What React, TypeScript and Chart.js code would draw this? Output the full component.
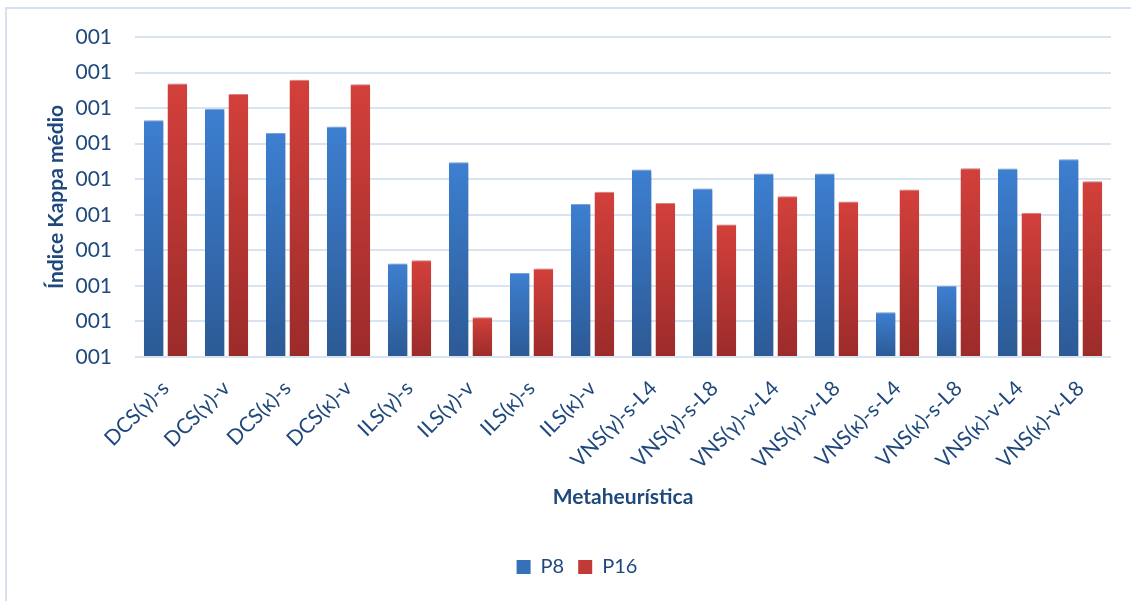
import React, { useEffect, useRef } from "react";
import { Chart, registerables } from "chart.js";

Chart.register(...registerables);

const categories = [
  "DCS(γ)-s", "DCS(γ)-v", "DCS(κ)-s", "DCS(κ)-v",
  "ILS(γ)-s", "ILS(γ)-v", "ILS(κ)-s", "ILS(κ)-v",
  "VNS(γ)-s-L4", "VNS(γ)-s-L8", "VNS(γ)-v-L4", "VNS(γ)-v-L8",
  "VNS(κ)-s-L4", "VNS(κ)-s-L8", "VNS(κ)-v-L4", "VNS(κ)-v-L8",
];

const p8 = [6.66, 6.98, 6.3, 6.48, 2.63, 5.48, 2.36, 4.3, 5.27, 4.74, 5.16, 5.16, 1.26, 2.0, 5.3, 5.56];
const p16 = [7.69, 7.4, 7.8, 7.67, 2.72, 1.12, 2.49, 4.65, 4.33, 3.73, 4.52, 4.37, 4.71, 5.31, 4.06, 4.94];

const yTickLabels = ["001", "001", "001", "001", "001", "001", "001", "001", "001", "001"];

const TEXT = "#1f497d";
const FONT = "Lato, 'Open Sans', sans-serif";

function gradientFill(top: string, bottom: string, solid: string) {
  return (ctx: any) => {
    const chart = ctx.chart;
    const ys = chart.scales && chart.scales.y;
    if (!chart.chartArea || !ys || ctx.raw == null) return solid;
    const yTop = ys.getPixelForValue(ctx.raw);
    const yBot = ys.getPixelForValue(0);
    if (!isFinite(yTop) || !isFinite(yBot) || yTop === yBot) return solid;
    const g = chart.ctx.createLinearGradient(0, yTop, 0, yBot);
    g.addColorStop(0, top);
    g.addColorStop(1, bottom);
    return g;
  };
}

const shadowPlugin = {
  id: "barShadow",
  beforeDatasetsDraw(chart: any) {
    const c = chart.ctx;
    c.save();
    c.shadowColor = "rgba(0,0,0,0.28)";
    c.shadowBlur = 4;
    c.shadowOffsetX = 2;
    c.shadowOffsetY = 1;
  },
  afterDatasetsDraw(chart: any) {
    chart.ctx.restore();
  },
};

export default function App() {
  const ref = useRef<HTMLCanvasElement | null>(null);

  useEffect(() => {
    if (!ref.current) return;
    const chart = new Chart(ref.current, {
      type: "bar",
      data: {
        labels: categories,
        datasets: [
          {
            label: "P8",
            data: p8,
            backgroundColor: gradientFill("#3d7fd1", "#2c5a95", "#3670b8"),
            borderColor: "rgba(120,165,225,0.9)",
            borderWidth: { top: 1, left: 0, right: 0, bottom: 0 },
            borderSkipped: false,
          },
          {
            label: "P16",
            data: p16,
            backgroundColor: gradientFill("#d3403b", "#9b2b2a", "#c03a36"),
            borderColor: "rgba(230,130,125,0.9)",
            borderWidth: { top: 1, left: 0, right: 0, bottom: 0 },
            borderSkipped: false,
          },
        ],
      },
      plugins: [shadowPlugin],
      options: {
        animation: false,
        responsive: false,
        maintainAspectRatio: false,
        layout: { padding: { top: 37, left: 43, right: 43, bottom: 14 } },
        datasets: {
          bar: { categoryPercentage: 0.775, barPercentage: 0.83 },
        },
        plugins: {
          tooltip: { enabled: false },
          legend: {
            position: "bottom",
            labels: {
              color: TEXT,
              font: { family: FONT, size: 20 },
              boxWidth: 14,
              boxHeight: 14,
              padding: 14,
              generateLabels: (ch: any) =>
                ch.data.datasets.map((d: any, i: number) => ({
                  text: d.label,
                  fillStyle: i === 0 ? "#3670b8" : "#c03a36",
                  strokeStyle: "transparent",
                  lineWidth: 0,
                  fontColor: TEXT,
                  datasetIndex: i,
                  hidden: false,
                })),
            },
          },
        },
        scales: {
          x: {
            grid: { display: false },
            border: { display: false },
            ticks: {
              color: TEXT,
              font: { family: FONT, size: 21 },
              minRotation: 45,
              maxRotation: 45,
              padding: 11,
              autoSkip: false,
            },
            title: {
              display: true,
              text: "Metaheurística",
              color: TEXT,
              font: { family: FONT, size: 21, weight: "bold" },
              padding: { top: 0, bottom: 33 },
            },
            afterFit: (s: any) => {
              s.height = 186;
            },
          },
          y: {
            min: 0,
            max: 9,
            grid: { color: "#d9e4f2", lineWidth: 2, drawTicks: false },
            border: { display: false },
            ticks: {
              stepSize: 1,
              color: TEXT,
              font: { family: FONT, size: 21 },
              padding: 23,
              callback: (_v: any, i: number) => yTickLabels[i],
            },
            title: {
              display: true,
              text: "Índice Kappa médio",
              color: TEXT,
              font: { family: FONT, size: 21, weight: "bold" },
              padding: { top: 1, bottom: 0 },
            },
            afterFit: (s: any) => {
              s.width = 92;
            },
          },
        },
      },
    } as any);
    return () => chart.destroy();
  }, []);

  return (
    <div
      style={{
        position: "fixed",
        left: 0,
        top: 0,
        width: 1131,
        height: 601,
        overflow: "hidden",
        background: "#ffffff",
      }}
    >
      <div
        style={{
          position: "absolute",
          left: 5,
          top: 7,
          width: 1200,
          height: 700,
          border: "2px solid #d5e1f0",
          boxSizing: "border-box",
        }}
      />
      <canvas
        ref={ref}
        width={1154}
        height={601}
        style={{ position: "absolute", left: 0, top: 0, width: 1154, height: 601 }}
      />
    </div>
  );
}
